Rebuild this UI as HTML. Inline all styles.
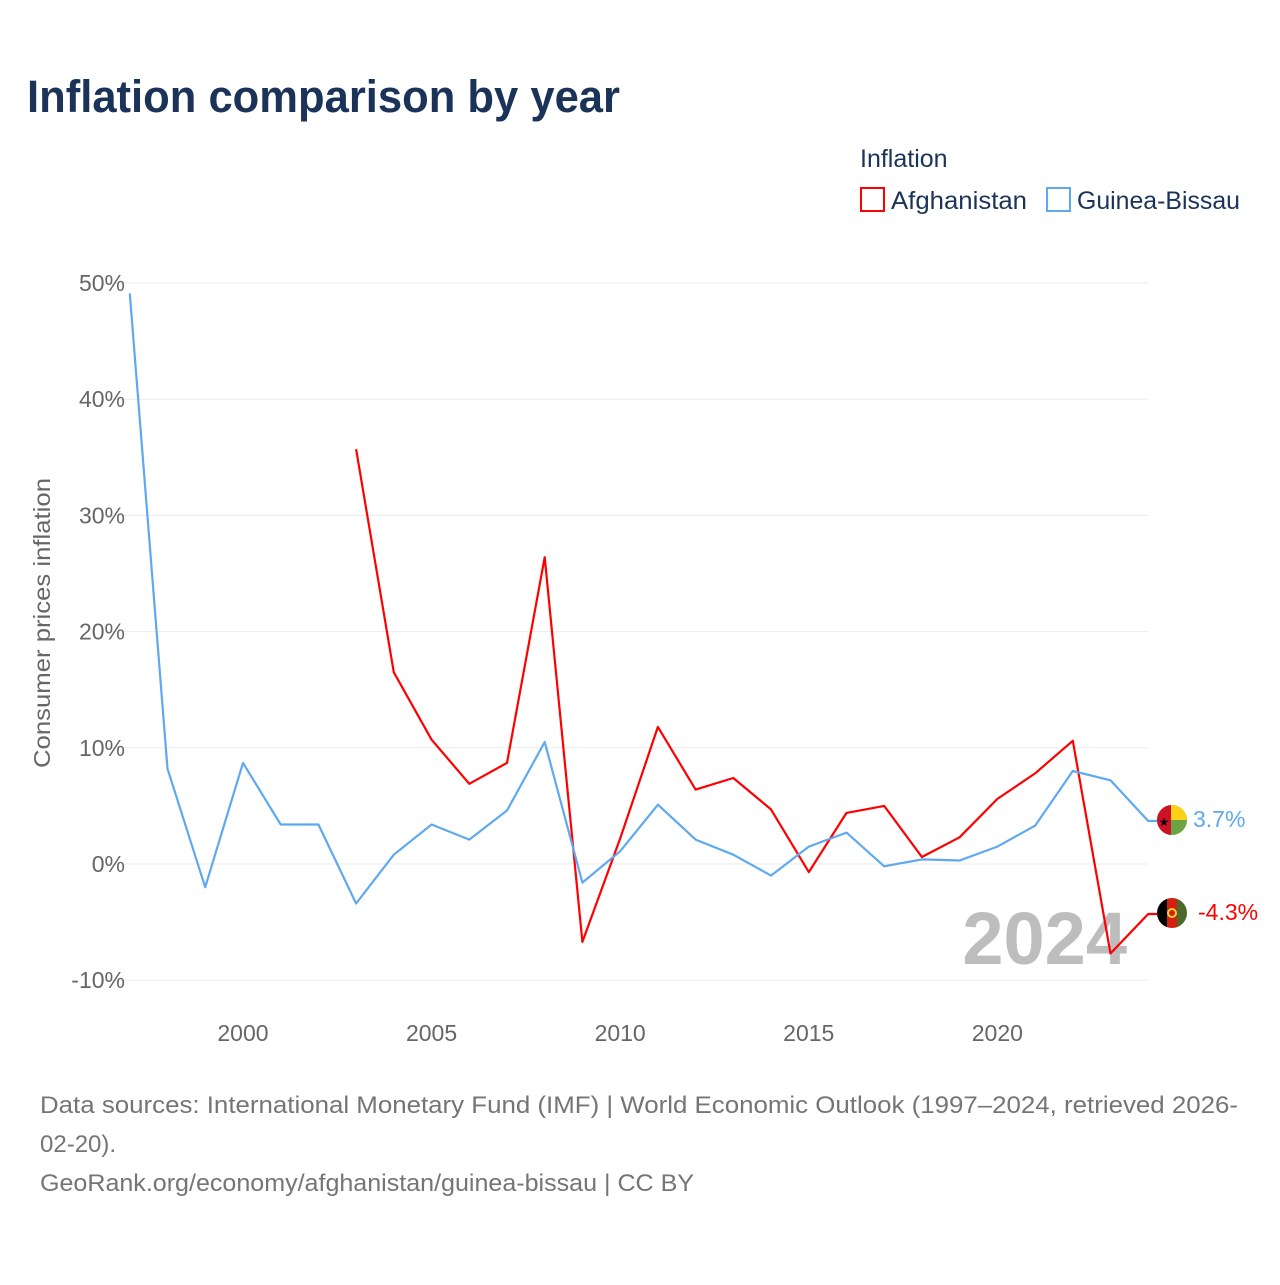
<!DOCTYPE html>
<html><head><meta charset="utf-8"><style>
body{margin:0;background:#fff;font-family:"Liberation Sans",sans-serif;}
svg text{font-family:"Liberation Sans",sans-serif;}
</style></head><body>
<svg width="1280" height="1280">
<text x="27" y="112" font-size="45" font-weight="bold" fill="#1b3358" textLength="593" lengthAdjust="spacingAndGlyphs">Inflation comparison by year</text>
<text x="860" y="167" font-size="25" fill="#1b3358">Inflation</text>
<g><rect x="861" y="188" width="23" height="23" fill="none" stroke="#ff0000" stroke-width="2"/><text x="891" y="209" font-size="25" fill="#1b3358" textLength="136" lengthAdjust="spacingAndGlyphs">Afghanistan</text></g>
<g><rect x="1047" y="188" width="23" height="23" fill="none" stroke="#5ea9ef" stroke-width="2"/><text x="1077" y="209" font-size="25" fill="#1b3358" textLength="163" lengthAdjust="spacingAndGlyphs">Guinea-Bissau</text></g>
<g id="grid"></g><g id="yt"></g><g id="xt"></g>
<text transform="translate(50,623) rotate(-90)" text-anchor="middle" font-size="23" fill="#666" textLength="290" lengthAdjust="spacingAndGlyphs">Consumer prices inflation</text>
<text x="1127" y="964" text-anchor="end" font-size="74" font-weight="bold" fill="#bdbdbd">2024</text>
<g id="lines"></g>
<g>
<clipPath id="c1"><circle cx="1172" cy="820" r="15"/></clipPath>
<g clip-path="url(#c1)"><rect x="1157" y="805" width="30" height="30" fill="#6aa443"/><rect x="1157" y="805" width="30" height="15" fill="#fcd116"/><rect x="1157" y="805" width="14" height="30" fill="#ce1126"/></g>
<text x="1164" y="826" text-anchor="middle" font-size="12">★</text></g>
<g>
<clipPath id="c2"><circle cx="1172" cy="913" r="15"/></clipPath>
<g clip-path="url(#c2)"><rect x="1157" y="898" width="10" height="30" fill="#000"/><rect x="1167" y="898" width="10" height="30" fill="#d32011"/><rect x="1177" y="898" width="10" height="30" fill="#4a6a2c"/></g>
<circle cx="1172" cy="913" r="4" fill="none" stroke="#f4d03f" stroke-width="2"/></g>
<text x="1193" y="827" font-size="23" fill="#5ea9ef">3.7%</text>
<text x="1198" y="920" font-size="23" fill="#ff0000">-4.3%</text>
<text x="40" y="1113" font-size="24" fill="#757575" textLength="1198" lengthAdjust="spacingAndGlyphs">Data sources: International Monetary Fund (IMF) | World Economic Outlook (1997–2024, retrieved 2026-</text>
<text x="40" y="1152" font-size="24" fill="#757575">02-20).</text>
<text x="40" y="1191" font-size="24" fill="#757575" textLength="654" lengthAdjust="spacingAndGlyphs">GeoRank.org/economy/afghanistan/guinea-bissau | CC BY</text>
</svg>
<script>
const years=[1997,1998,1999,2000,2001,2002,2003,2004,2005,2006,2007,2008,2009,2010,2011,2012,2013,2014,2015,2016,2017,2018,2019,2020,2021,2022,2023,2024];
const gnb=[49.1,8.2,-2.0,8.7,3.4,3.4,-3.4,0.8,3.4,2.1,4.6,10.5,-1.6,1.1,5.1,2.1,0.8,-1.0,1.5,2.7,-0.2,0.4,0.3,1.5,3.3,8.0,7.2,3.7];
const afg=[null,null,null,null,null,null,35.7,16.5,10.7,6.9,8.7,26.4,-6.7,2.2,11.8,6.4,7.4,4.7,-0.7,4.4,5.0,0.6,2.3,5.6,7.8,10.6,-7.7,-4.3];
const yTicks=[-10,0,10,20,30,40,50];
const xTicks=[2000,2005,2010,2015,2020];
const NS="http://www.w3.org/2000/svg";
const X=y=>129.8+(y-1997)*37.72;
const Y=v=>864-v*11.62;
function mk(t,a,p){const e=document.createElementNS(NS,t);for(const k in a)e.setAttribute(k,a[k]);p.appendChild(e);return e;}
const grid=document.getElementById('grid'),yt=document.getElementById('yt'),xt=document.getElementById('xt'),lines=document.getElementById('lines');
yTicks.forEach(v=>{
 const l=mk('line',{x1:105,x2:1148,y1:Y(v),y2:Y(v),stroke:'#ebebeb','stroke-width':1},grid);
 
 
 const t=mk('text',{x:125,y:Y(v)+8,'text-anchor':'end','font-size':23,fill:'#666'},yt);
 t.textContent=v+'%';
 
 
});
xTicks.forEach(v=>{
 const t=mk('text',{x:X(v),y:1041,'text-anchor':'middle','font-size':23,fill:'#666'},xt);
 t.textContent=v;
 
 
});
function line(vals,col,name){
 let d='';let started=false;
 vals.forEach((v,i)=>{if(v==null)return;d+=(started?'L':'M')+X(years[i]).toFixed(1)+','+Y(v).toFixed(1);started=true;});
 const last=vals[vals.length-1];
 d+='L1157,'+Y(last).toFixed(1);
 const p=mk('path',{d:d,fill:'none',stroke:col,'stroke-width':2.2,'stroke-linejoin':'round'},lines);
 
 
}
line(afg,'#ff0000','line-afghanistan');
line(gnb,'#5ea9ef','line-guinea-bissau');
</script>
</body></html>
